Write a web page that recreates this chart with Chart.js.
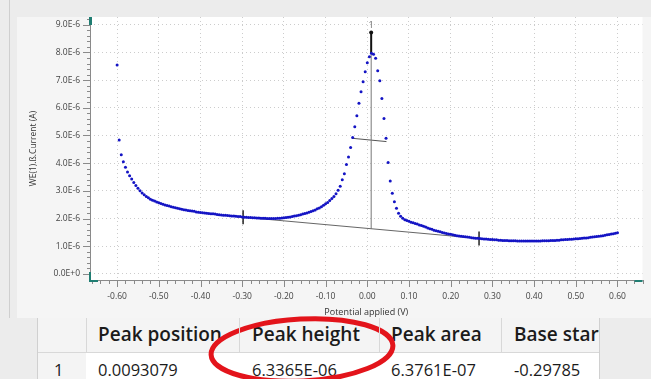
<!DOCTYPE html>
<html>
<head>
<meta charset="utf-8">
<script src="https://cdn.jsdelivr.net/npm/chart.js@4.4.0/dist/chart.umd.min.js"></script>
<style>
body { margin: 0; width: 651px; height: 379px; overflow: hidden; background: #ececec; position: relative; font-family: "Open Sans", sans-serif; }
#chart { position: absolute; left: 0; top: 0; }
.tbl { position: absolute; left: 37px; top: 318px; width: 561px; height: 61px; background: #fff; overflow: hidden; border-left: 1px solid #d0d0d0; border-right: 1px solid #d0d0d0; }
.hdr { position: absolute; left: 0; top: 0; width: 561px; height: 34px; background: #f4f4f4; border-bottom: 1px solid #d8d8d8; }
.rowhead { position: absolute; left: 0; top: 35px; width: 48px; height: 26px; background: #f4f4f4; }
.div { position: absolute; top: 0; width: 1px; height: 34px; background: #d8d8d8; z-index: 2; }
.cell { position: absolute; white-space: nowrap; color: #1b1b1b; overflow: hidden; }
.h { top: 3px; font-size: 19px; font-weight: 600; }
.r { top: 40px; font-size: 16.5px; }
#ring { position: absolute; left: 0; top: 0; }
</style>
</head>
<body>
<canvas id="chart" width="651" height="318"></canvas>
<div class="tbl">
  <div class="hdr"></div>
  <div class="rowhead"></div>
  <div class="div" style="left:48px"></div>
  <div class="div" style="left:201px"></div>
  <div class="div" style="left:341px"></div>
  <div class="div" style="left:463px"></div>
  <div class="cell h" style="left:60px;width:140px">Peak position</div>
  <div class="cell h" style="left:214px;width:126px">Peak height</div>
  <div class="cell h" style="left:353px;width:109px">Peak area</div>
  <div class="cell h" style="left:476px">Base start</div>
  <div class="cell r" style="left:16px">1</div>
  <div class="cell r" style="left:60px">0.0093079</div>
  <div class="cell r" style="left:214px">6.3365E-06</div>
  <div class="cell r" style="left:353px">6.3761E-07</div>
  <div class="cell r" style="left:476px">-0.29785</div>
</div>
<svg id="ring" width="651" height="379">
  <ellipse cx="302" cy="350" rx="91" ry="31" fill="none" stroke="#e3141b" stroke-width="5" transform="rotate(-3 302 350)"/>
</svg>
<script>
// sweep: -0.600 V to 0.600 V, 5 mV step
const potentialStart = -0.6;
const potentialStep = 0.005;

// WE(1).ß.Current in µA
const currents = [
  7.55, 4.84, 4.30, 4.05, 3.85, 3.68, 3.55, 3.43, 3.30, 3.19,
  3.09, 3.00, 2.92, 2.86, 2.80, 2.75, 2.70, 2.66, 2.63, 2.60,
  2.57, 2.54, 2.52, 2.49, 2.47, 2.45, 2.43, 2.41, 2.39, 2.37,
  2.35, 2.34, 2.32, 2.31, 2.29, 2.28, 2.27, 2.26, 2.24, 2.23,
  2.22, 2.21, 2.20, 2.19, 2.18, 2.17, 2.17, 2.16, 2.15, 2.14,
  2.13, 2.12, 2.12, 2.11, 2.10, 2.09, 2.09, 2.08, 2.07, 2.07,
  2.06, 2.05, 2.05, 2.04, 2.04, 2.03, 2.03, 2.02, 2.02, 2.01,
  2.01, 2.01, 2.00, 2.00, 2.00, 2.00, 2.00, 2.01, 2.01, 2.02,
  2.03, 2.04, 2.05, 2.06, 2.07, 2.09, 2.10, 2.12, 2.14, 2.16,
  2.18, 2.20, 2.23, 2.25, 2.28, 2.31, 2.35, 2.38, 2.43, 2.48,
  2.53, 2.58, 2.65, 2.72, 2.80, 2.90, 3.02, 3.17, 3.40, 3.62,
  3.95, 4.22, 4.57, 4.93, 5.32, 5.71, 6.16, 6.58, 6.94, 7.30,
  7.63, 7.84, 7.97, 7.93, 7.79, 7.34, 6.98, 6.34, 5.61, 4.90,
  4.02, 3.36, 2.91, 2.61, 2.37, 2.19, 2.08, 2.01, 1.96, 1.93,
  1.90, 1.87, 1.85, 1.82, 1.80, 1.77, 1.75, 1.72, 1.69, 1.66,
  1.63, 1.61, 1.58, 1.56, 1.54, 1.52, 1.50, 1.48, 1.46, 1.44,
  1.43, 1.41, 1.40, 1.38, 1.37, 1.36, 1.35, 1.34, 1.33, 1.32,
  1.31, 1.30, 1.29, 1.29, 1.28, 1.27, 1.26, 1.26, 1.25, 1.24,
  1.24, 1.23, 1.23, 1.22, 1.22, 1.21, 1.21, 1.21, 1.20, 1.20,
  1.20, 1.20, 1.19, 1.19, 1.19, 1.19, 1.19, 1.19, 1.19, 1.19,
  1.19, 1.19, 1.19, 1.19, 1.20, 1.20, 1.20, 1.20, 1.21, 1.21,
  1.21, 1.22, 1.22, 1.23, 1.23, 1.24, 1.24, 1.25, 1.25, 1.26,
  1.27, 1.27, 1.28, 1.29, 1.30, 1.30, 1.31, 1.32, 1.33, 1.34,
  1.35, 1.36, 1.37, 1.38, 1.40, 1.41, 1.42, 1.44, 1.45, 1.47,
  1.49
];

// peak analysis results
const peakPosition = 0.0093079;
const peakHeight = 6.3365e-6;
const baseStart = [-0.29785, 2.05e-6];
const baseEnd = [0.268, 1.28e-6];
const halfLine = [[-0.037, 4.90e-6], [0.046, 4.78e-6]];
const peakMarkTop = 8.72e-6;

// tick labels
const xTicks = [-0.6, -0.5, -0.4, -0.3, -0.2, -0.1, 0, 0.1, 0.2, 0.3, 0.4, 0.5, 0.6];
const yTicks = [0, 1e-6, 2e-6, 3e-6, 4e-6, 5e-6, 6e-6, 7e-6, 8e-6, 9e-6];

const points = currents.map((c, i) => ({ x: potentialStart + i * potentialStep, y: c * 1e-6 }));

// baseline under the peak
const slope = (baseEnd[1] - baseStart[1]) / (baseEnd[0] - baseStart[0]);
const baseAtPeak = baseStart[1] + slope * (peakPosition - baseStart[0]);

const bgPlugin = {
  id: 'bg',
  beforeDraw(chart) {
    const { ctx, chartArea: a } = chart;
    ctx.save();
    ctx.fillStyle = '#ececec';
    ctx.fillRect(0, 0, chart.width, chart.height);
    ctx.fillStyle = '#f5f5f5';
    ctx.fillRect(17, 17, chart.width - 17, chart.height - 17);
    ctx.fillStyle = '#cfcfcf';
    ctx.fillRect(9, 0, 1, chart.height);
    ctx.fillStyle = '#ffffff';
    ctx.fillRect(a.left, a.top, a.right - a.left, a.bottom - a.top);
    ctx.restore();
  },
  afterDraw(chart) {
    const { ctx, chartArea: a, scales: { x, y } } = chart;
    ctx.save();
    ctx.strokeStyle = '#8a8a8a';
    ctx.lineWidth = 1;
    ctx.beginPath();
    ctx.moveTo(a.left + 0.5, a.top);
    ctx.lineTo(a.left + 0.5, a.bottom);
    ctx.moveTo(a.left, a.bottom + 0.5);
    ctx.lineTo(a.right, a.bottom + 0.5);
    // x ticks, major and minor
    for (let k = -33; k <= 33; k++) {
      const px = Math.round(x.getPixelForValue(k * 0.02)) + 0.5;
      const len = k % 5 === 0 ? 7 : 4;
      ctx.moveTo(px, a.bottom);
      ctx.lineTo(px, a.bottom + len);
    }
    // y ticks, major and minor
    for (let k = 0; k <= 46; k++) {
      const py = Math.round(y.getPixelForValue(k * 0.2e-6)) + 0.5;
      const len = k % 5 === 0 ? 7 : 3;
      ctx.moveTo(a.left - len, py);
      ctx.lineTo(a.left, py);
    }
    ctx.stroke();

    // slider handles
    ctx.fillStyle = '#1f7d72';
    ctx.fillRect(a.left - 1, a.top, 3, 8);
    ctx.fillRect(a.left - 1, a.bottom - 8, 2, 9);
    ctx.fillRect(a.left - 1, a.bottom, 9, 2);
    ctx.fillRect(a.right - 8, a.bottom, 8, 2);

    // peak label
    ctx.fillStyle = '#666';
    ctx.font = '9px "Open Sans"';
    ctx.textAlign = 'center';
    ctx.textBaseline = 'middle';
    ctx.fillText('1', x.getPixelForValue(peakPosition), y.getPixelForValue(peakMarkTop) - 7);
    ctx.restore();
  }
};

new Chart(document.getElementById('chart'), {
  type: 'scatter',
  data: {
    datasets: [
      {
        data: points,
        showLine: false,
        pointRadius: 1.5,
        pointBackgroundColor: '#1414c4',
        pointBorderWidth: 0
      },
      {
        data: [{ x: baseStart[0], y: baseStart[1] }, { x: baseEnd[0], y: baseEnd[1] }],
        showLine: true,
        borderColor: '#666',
        borderWidth: 1,
        pointRadius: 7,
        pointStyle: 'line',
        rotation: 90,
        pointBorderColor: '#222',
        pointBorderWidth: 1.5
      },
      {
        data: [{ x: peakPosition, y: baseAtPeak }, { x: peakPosition, y: baseAtPeak + peakHeight }],
        showLine: true,
        borderColor: '#777',
        borderWidth: 1,
        pointRadius: 0
      },
      {
        data: [{ x: peakPosition, y: baseAtPeak + peakHeight }, { x: peakPosition, y: peakMarkTop }],
        showLine: true,
        borderColor: '#111',
        borderWidth: 2,
        pointRadius: [0, 2],
        pointBackgroundColor: '#111',
        pointBorderWidth: 0
      },
      {
        data: halfLine.map(p => ({ x: p[0], y: p[1] })),
        showLine: true,
        borderColor: '#555',
        borderWidth: 1,
        pointRadius: 0
      }
    ]
  },
  options: {
    responsive: false,
    animation: false,
    layout: { padding: { left: 28, top: 17, right: 3, bottom: 0 } },
    plugins: { legend: { display: false }, tooltip: { enabled: false } },
    scales: {
      x: {
        type: 'linear',
        min: -0.665,
        max: 0.66,
        afterBuildTicks: s => { s.ticks = xTicks.map(v => ({ value: v })); },
        afterFit: s => { s.height = 38; },
        grid: { color: '#cccccc', drawTicks: false },
        border: { display: false, dash: [1, 3] },
        ticks: {
          padding: 11,
          color: '#444',
          font: { family: 'Open Sans', size: 8.5 },
          callback: v => v.toFixed(2)
        },
        title: {
          display: true,
          text: 'Potential applied (V)',
          color: '#333',
          font: { family: 'Open Sans', size: 9 },
          padding: { top: 0, bottom: 0 }
        }
      },
      y: {
        type: 'linear',
        min: -0.22e-6,
        max: 9.28e-6,
        afterBuildTicks: s => { s.ticks = yTicks.map(v => ({ value: v })); },
        afterFit: s => { s.width = 62; },
        grid: { color: '#cccccc', drawTicks: false },
        border: { display: false, dash: [1, 3] },
        ticks: {
          padding: 10,
          color: '#444',
          font: { family: 'Open Sans', size: 8.5 },
          callback: v => v === 0 ? '0.0E+0' : (v * 1e6).toFixed(1) + 'E-6'
        },
        title: {
          display: true,
          text: 'WE(1).ß.Current (A)',
          color: '#333',
          font: { family: 'Open Sans', size: 8.5 },
          padding: { top: 0, bottom: 4 }
        }
      }
    }
  },
  plugins: [bgPlugin]
});
</script>
</body>
</html>
